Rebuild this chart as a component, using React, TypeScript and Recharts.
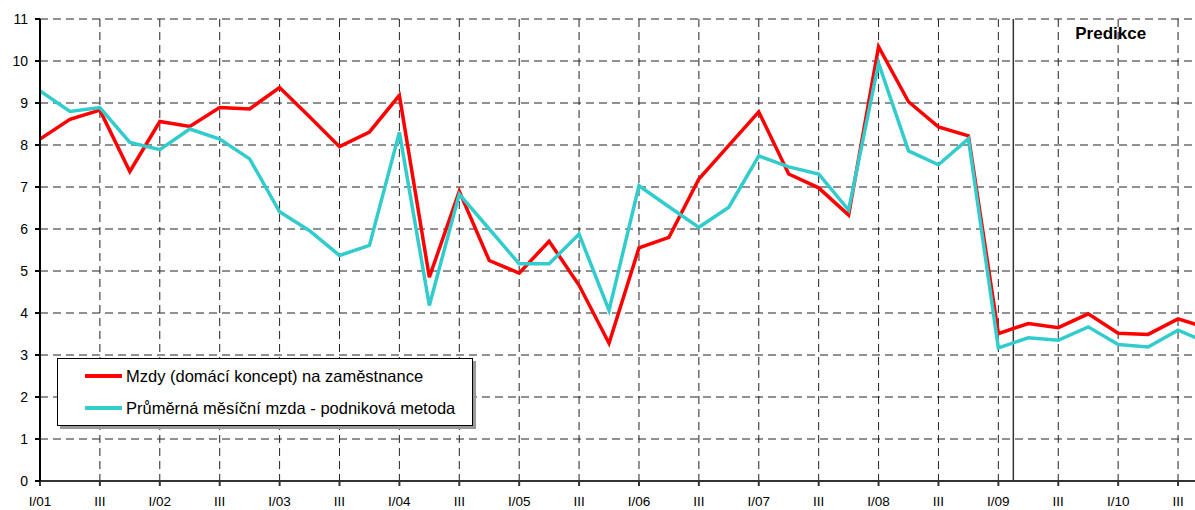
import React from 'react';
import {
  LineChart,
  Line,
  XAxis,
  YAxis,
  CartesianGrid,
  ReferenceLine,
  ReferenceArea,
  Legend,
} from 'recharts';

const years = ['01', '02', '03', '04', '05', '06', '07', '08', '09', '10'];
const quarterNames = ['I', 'II', 'III', 'IV'];

// mzdy (domaci koncept) na zamestnance, mezirocne v %
const mzdy = [
  8.14, 8.61, 8.83, 7.37,
  8.56, 8.44, 8.89, 8.86,
  9.37, 8.67, 7.96, 8.31,
  9.18, 4.85, 6.9, 5.25,
  4.95, 5.71, 4.66, 3.28,
  5.55, 5.8, 7.19, 7.99,
  8.79, 7.31, 6.98, 6.33,
  10.34, 9.03, 8.43, 8.22,
  3.51, 3.75, 3.65, 3.98,
  3.52, 3.49, 3.86, 3.64,
];

// prumerna mesicni mzda - podnikova metoda
const prumerna = [
  9.29, 8.8, 8.89, 8.06,
  7.89, 8.38, 8.14, 7.67,
  6.41, 5.96, 5.37, 5.61,
  8.3, 4.18, 6.83, 6.0,
  5.17, 5.17, 5.88, 4.06,
  7.03, 6.53, 6.04, 6.52,
  7.74, 7.48, 7.31, 6.45,
  9.95, 7.86, 7.53, 8.15,
  3.17, 3.41, 3.35, 3.67,
  3.25, 3.19, 3.59, 3.29,
];

const yTicks = [0, 1, 2, 3, 4, 5, 6, 7, 8, 9, 10, 11];
const predikceFrom = 32.5;

const quarters = years.flatMap((y) => quarterNames.map((q) => `${q}/${y}`));
const xTicks = quarters.map((_, i) => i).filter((i) => i % 2 === 0);

const data = quarters.map((q, i) => ({ i, q, mzdy: mzdy[i], prumerna: prumerna[i] }));

const FONT = '"Liberation Sans", Arial, sans-serif';

const tickLabel = (i: number) => {
  const q = quarters[i] || '';
  if (q.startsWith('I/')) return q;
  if (q.startsWith('III/')) return 'III';
  return '';
};

const legendItems = [
  { name: 'Mzdy (domácí koncept) na zaměstnance', color: '#FF0000' },
  { name: 'Průměrná měsíční mzda - podniková metoda', color: '#33CCCC' },
];

function LegendBox() {
  return (
    <div
      style={{
        width: 414,
        height: 66,
        border: '1px solid #000',
        background: '#fff',
        boxShadow: '3px 3px 0 #999',
        fontFamily: FONT,
        fontSize: 16.5,
        color: '#000',
        boxSizing: 'content-box',
      }}
    >
      {legendItems.map((it, k) => (
        <div
          key={k}
          style={{ position: 'relative', height: 32, marginTop: k === 0 ? 1 : 0, display: 'flex', alignItems: 'center' }}
        >
          <span style={{ display: 'inline-block', width: 37, height: 4, background: it.color, marginLeft: 27, marginRight: 4 }} />
          <span>{it.name}</span>
        </div>
      ))}
    </div>
  );
}

export default function App() {
  return (
    <div style={{ position: 'absolute', left: 0, top: 0, width: 1195, height: 510, overflow: 'hidden', background: '#fff' }}>
      <LineChart width={1209} height={530} data={data} margin={{ top: 19, right: 1, left: 0, bottom: 0 }}>
        <CartesianGrid stroke="#222" strokeDasharray="8 5" />
        <XAxis
          dataKey="i"
          type="number"
          domain={[0, 39]}
          ticks={xTicks}
          tickFormatter={tickLabel}
          interval={0}
          height={49}
          tickSize={5}
          tickMargin={10}
          stroke="#333"
          strokeWidth={2}
          tick={{ fill: '#000', fontSize: 13.5, fontFamily: FONT }}
        />
        <YAxis
          domain={[0, 11]}
          ticks={yTicks}
          width={40}
          tickSize={5}
          tickMargin={7}
          stroke="#000"
          strokeWidth={2}
          tick={{ fill: '#000', fontSize: 14, fontFamily: FONT }}
        />
        <ReferenceArea
          x1={predikceFrom}
          x2={39}
          fill="none"
          stroke="none"
          label={{ value: 'Predikce', position: 'insideTop', offset: 8, fontWeight: 'bold', fontSize: 17, fill: '#000', fontFamily: FONT }}
        />
        <ReferenceLine x={predikceFrom} stroke="#333" strokeWidth={1.5} />
        <Legend
          layout="vertical"
          align="center"
          verticalAlign="middle"
          wrapperStyle={{ left: 57, top: 358, width: 416, height: 68 }}
          content={() => <LegendBox />}
        />
        <Line
          dataKey="mzdy"
          name={legendItems[0].name}
          stroke="#FF0000"
          strokeWidth={3.5}
          dot={false}
          isAnimationActive={false}
        />
        <Line
          dataKey="prumerna"
          name={legendItems[1].name}
          stroke="#33CCCC"
          strokeWidth={3.5}
          dot={false}
          isAnimationActive={false}
        />
      </LineChart>
    </div>
  );
}
